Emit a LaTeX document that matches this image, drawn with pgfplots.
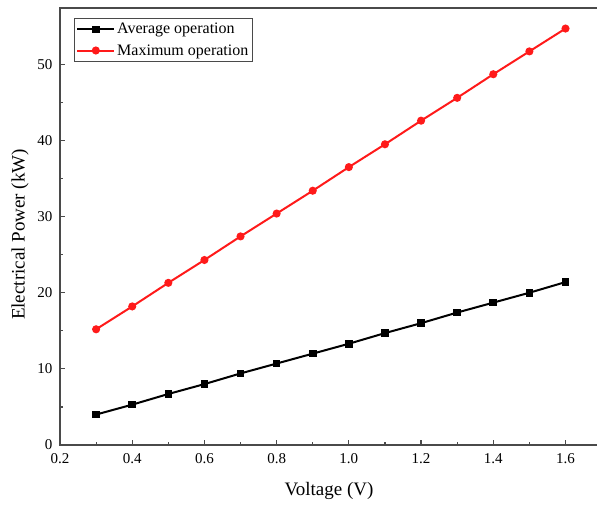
\documentclass[border=0pt]{standalone}
\usepackage{fontspec}
\setmainfont{Liberation Serif}
\usepackage{pgfplots}
\pgfplotsset{compat=1.18}
\definecolor{AxisGray}{HTML}{4A4A4A}
\definecolor{MaxRed}{HTML}{FF1A1A}

\pgfplotstableread{
V     avg    max
0.3   4.0    15.2
0.4   5.3    18.2
0.5   6.7    21.3
0.6   8.0    24.3
0.7   9.4    27.4
0.8   10.7   30.4
0.9   12.0   33.4
1.0   13.3   36.5
1.1   14.7   39.5
1.2   16.0   42.6
1.3   17.4   45.6
1.4   18.7   48.7
1.5   20.0   51.7
1.6   21.4   54.7
}\powerdata

\begin{document}
\begin{tikzpicture}
\begin{axis}[
  name=ax,
  scale only axis,
  width=538bp,
  height=437bp,
  xmin=0.2, xmax=1.69,
  ymin=0, ymax=57.4,
  xtick={0.2,0.4,...,1.6},
  ytick={0,10,...,50},
  minor x tick num=1,
  minor y tick num=1,
  tick align=inside,
  xtick pos=bottom,
  ytick pos=left,
  major tick length=5bp,
  minor tick length=3bp,
  tick style={AxisGray, line width=1.2bp},
  axis line style={AxisGray, line width=1.5bp},
  /pgf/number format/assume math mode=true,
  xticklabel style={/pgf/number format/.cd, fixed, fixed zerofill, precision=1, /tikz/.cd, yshift=-5bp},
  yticklabel style={/pgf/number format/.cd, fixed, /tikz/.cd, xshift=-4bp},
  ticklabel style={font=\fontsize{15bp}{17bp}\selectfont},
  xlabel={Voltage (V)},
  ylabel={Electrical Power (kW)},
  every axis x label/.style={at={(rel axis cs:0.5,0)}, anchor=center, yshift=-46bp,
    font=\fontsize{19bp}{21bp}\selectfont},
  every axis y label/.style={at={(rel axis cs:0,0.5)}, anchor=center, xshift=-40bp, yshift=-8bp, rotate=90,
    font=\fontsize{19bp}{21bp}\selectfont},
  legend style={at={(rel axis cs:0,1)}, anchor=north west, xshift=14bp, yshift=-10bp,
    draw=AxisGray, line width=0.8bp, font=\fontsize{16bp}{18bp}\selectfont,
    row sep=5bp, inner xsep=2bp, inner ysep=3bp},
  legend cell align=left,
  legend image code/.code={
    \draw[mark repeat=2, mark phase=2] plot coordinates {(0cm,0cm) (0.65cm,0cm) (1.3cm,0cm)};},
]
\addplot[black, line width=2bp, mark=square*, mark size=2.8bp, mark options={solid}]
  table[x=V, y=avg] {\powerdata};
\addlegendentry{Average operation}
\addplot[MaxRed, line width=2bp, mark=*, mark size=3bp, mark options={solid}]
  table[x=V, y=max] {\powerdata};
\addlegendentry{Maximum operation}
\end{axis}
\pgfresetboundingbox
\path (ax.south west) ++(-60bp,-61bp) rectangle ++(597bp,506bp);
\end{tikzpicture}
\end{document}
